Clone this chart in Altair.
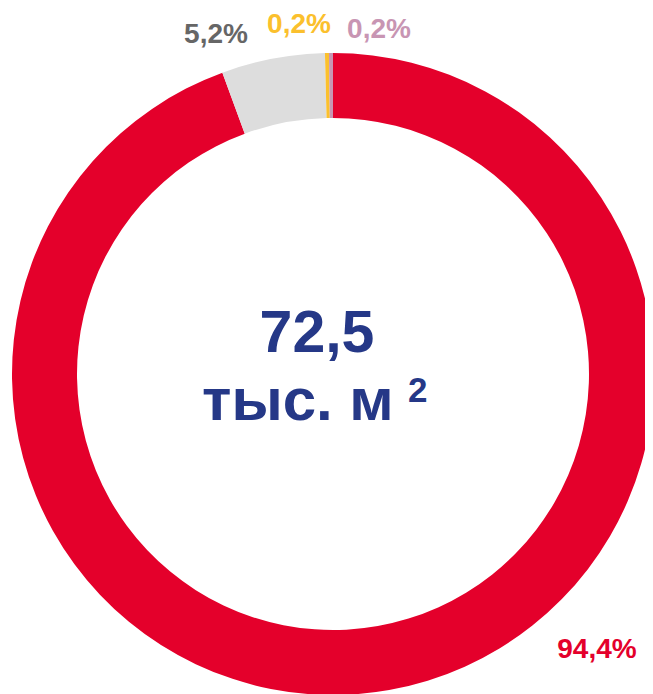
import altair as alt
import pandas as pd

# Data
categories = ["Категория 1", "Категория 2", "Категория 3", "Категория 4"]
shares = [94.4, 5.2, 0.2, 0.2]
labels = ["94,4%", "5,2%", "0,2%", "0,2%"]
slice_colors = ["#E4002B", "#DDDDDD", "#FBC02D", "#C895B3"]
label_colors = ["#E4002B", "#666666", "#FBC02D", "#C895B3"]
center_value = "72,5"
center_unit = "тыс. м"
center_sup = "2"

df = pd.DataFrame({
    "cat": categories,
    "share": shares,
    "label": labels,
    "idx": list(range(len(categories))),
})

FONT = "Arial, Liberation Sans, sans-serif"
NAVY = "#253887"
CX, CY = 325, 366

arc = alt.Chart(df).mark_arc(outerRadius=321, innerRadius=256, strokeWidth=0).encode(
    theta=alt.Theta("share:Q", stack=True),
    color=alt.Color("cat:N", scale=alt.Scale(domain=categories, range=slice_colors), legend=None),
    order=alt.Order("idx:Q"),
    x=alt.value(CX),
    y=alt.value(CY),
)

# label anchor positions (layout)
label_pos = [(589, 650), (208, 35), (291, 25), (371, 30)]
layers = [arc]
for i, (lx, ly) in enumerate(label_pos):
    layers.append(
        alt.Chart(df).transform_filter(alt.datum.idx == i).mark_text(
            font=FONT, fontSize=28, fontWeight="bold", align="center", baseline="alphabetic"
        ).encode(
            text="label:N",
            color=alt.value(label_colors[i]),
            x=alt.value(lx),
            y=alt.value(ly),
        )
    )

center_df = pd.DataFrame({"v": [center_value], "u": [center_unit], "s": [center_sup]})
t1 = alt.Chart(center_df).mark_text(
    font=FONT, fontSize=59, fontWeight="bold", align="center", baseline="alphabetic", color=NAVY
).encode(text="v:N", x=alt.value(309), y=alt.value(344))
t2 = alt.Chart(center_df).mark_text(
    font=FONT, fontSize=60, fontWeight="bold", align="left", baseline="alphabetic", color=NAVY
).encode(text="u:N", x=alt.value(194), y=alt.value(412))
t3 = alt.Chart(center_df).mark_text(
    font=FONT, fontSize=35, fontWeight="bold", align="left", baseline="alphabetic", color=NAVY
).encode(text="s:N", x=alt.value(400), y=alt.value(394))
layers += [t1, t2, t3]

chart = alt.layer(*layers).properties(
    width=637, height=686, padding=0,
    autosize=alt.AutoSizeParams(type="none"),
).configure_view(stroke=None)

chart.save("out.html", embed_options={"renderer": "svg", "actions": False})
